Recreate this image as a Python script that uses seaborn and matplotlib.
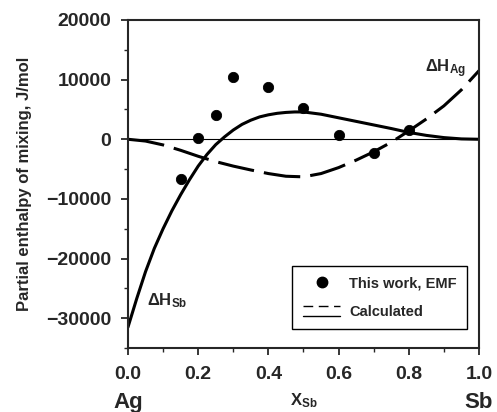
import numpy as np
import pandas as pd
import matplotlib
matplotlib.use("Agg")
import matplotlib.pyplot as plt
import seaborn as sns
from matplotlib.lines import Line2D
from matplotlib.legend_handler import HandlerBase
from matplotlib.ticker import MultipleLocator

# measured points (EMF)
x_emf = [0.15, 0.20, 0.25, 0.30, 0.40, 0.50, 0.60, 0.70, 0.80]
h_emf = [-6600, 200, 4000, 10400, 8700, 5200, 700, -2300, 1500]

# calculated partial enthalpy of Sb
x_sb = [0.0, 0.025, 0.05, 0.075, 0.10, 0.125, 0.15, 0.175, 0.20, 0.225, 0.25,
        0.275, 0.30, 0.325, 0.35, 0.375, 0.40, 0.425, 0.45, 0.475, 0.50,
        0.55, 0.60, 0.65, 0.70, 0.75, 0.80, 0.85, 0.90, 0.95, 1.0]
h_sb = [-31500, -26700, -22200, -18300, -15000, -12000, -9300, -6800, -4500,
        -2550, -900, 400, 1550, 2500, 3200, 3750, 4100, 4350, 4500, 4580, 4580,
        4200, 3600, 3000, 2400, 1800, 1150, 650, 280, 60, 0]

# calculated partial enthalpy of Ag
x_ag = [0.0, 0.05, 0.10, 0.15, 0.20, 0.25, 0.30, 0.35, 0.40, 0.45, 0.50,
        0.55, 0.60, 0.65, 0.70, 0.75, 0.80, 0.85, 0.90, 0.95, 1.0]
h_ag = [0, -300, -950, -1850, -2850, -3750, -4500, -5150, -5750, -6200, -6300,
        -5750, -4750, -3500, -2100, -500, 1400, 3400, 5600, 8300, 11500]

emf = pd.DataFrame({"x": x_emf, "h": h_emf})
calc_sb = pd.DataFrame({"x": x_sb, "h": h_sb})
calc_ag = pd.DataFrame({"x": x_ag, "h": h_ag})

sns.set_style("ticks")
plt.rcParams["font.family"] = ["Liberation Sans", "DejaVu Sans"]
plt.rcParams["font.weight"] = "bold"
plt.rcParams["mathtext.fontset"] = "custom"
plt.rcParams["mathtext.rm"] = "Liberation Sans:bold"
plt.rcParams["mathtext.bf"] = "Liberation Sans:bold"
plt.rcParams["mathtext.it"] = "Liberation Sans:bold"
plt.rcParams["mathtext.sf"] = "Liberation Sans:bold"

fig = plt.figure(figsize=(4.97, 4.12), dpi=100)
ax = fig.add_axes([0.2575, 0.1553, 0.7063, 0.7962])

ax.axhline(0, color="black", lw=0.8, zorder=1)
sns.lineplot(data=calc_sb, x="x", y="h", ax=ax, color="black", lw=2.2,
             sort=False, estimator=None)
sns.lineplot(data=calc_ag, x="x", y="h", ax=ax, color="black", lw=2.2,
             sort=False, estimator=None)
ax.lines[-1].set_dashes((12, 3.3))
sns.scatterplot(data=emf, x="x", y="h", ax=ax, color="black", s=55,
                edgecolor="black", zorder=5)

ax.set_xlim(0, 1)
ax.set_ylim(-35000, 20000)
ax.xaxis.set_minor_locator(MultipleLocator(0.1))
ax.yaxis.set_major_locator(MultipleLocator(10000))
ax.yaxis.set_minor_locator(MultipleLocator(5000))
ax.set_xticks([0, 0.2, 0.4, 0.6, 0.8, 1.0])
ax.set_xticklabels(["0.0", "0.2", "0.4", "0.6", "0.8", "1.0"])
ax.tick_params(which="major", length=5, width=1.3, labelsize=14, direction="out")
ax.tick_params(which="minor", length=3, width=1.0, direction="out")
ax.tick_params(axis="x", pad=8)
ax.tick_params(axis="y", pad=7)
for s in ax.spines.values():
    s.set_linewidth(1.5)
    s.set_visible(True)

ax.set_xlabel("")
ax.set_ylabel("Partial enthalpy of mixing, J/mol", fontsize=12, fontweight="bold",
              labelpad=10)

tr = ax.get_xaxis_transform()
ax.text(0.0, -0.165, "Ag", transform=tr, ha="center", va="center", fontsize=16)
ax.text(1.0, -0.165, "Sb", transform=tr, ha="center", va="center", fontsize=16)
ax.text(0.5, -0.16, r"$\mathrm{X}_{\mathrm{Sb}}$", transform=tr, ha="center",
        va="center", fontsize=12)

ax.text(0.055, -27000, r"$\Delta\mathrm{H}_{\mathrm{Sb}}$", ha="left", va="center",
        fontsize=12)
ax.text(0.845, 11800, r"$\Delta\mathrm{H}_{\mathrm{Ag}}$", ha="left", va="center",
        fontsize=12)


class CalcHandler(HandlerBase):
    # dashed line above, solid line below, one label
    def create_artists(self, legend, orig_handle, xdescent, ydescent, width,
                       height, fontsize, trans):
        y1 = height * 1.0
        y2 = height * 0.0
        a = Line2D([-xdescent, width - xdescent], [y1, y1], color="black", lw=1.0,
                   dashes=(7, 4), transform=trans)
        b = Line2D([-xdescent, width - xdescent], [y2, y2], color="black", lw=1.0,
                   transform=trans)
        return [a, b]


pt = Line2D([], [], marker="o", ls="none", color="black", markersize=7.5)
calc_h = Line2D([], [], color="black")
leg = ax.legend([pt, calc_h], ["This work, EMF", "Calculated"],
                handler_map={calc_h: CalcHandler()},
                loc="lower right", bbox_to_anchor=(0.966, 0.058),
                fontsize=10.5, frameon=True, fancybox=False, framealpha=1,
                edgecolor="black", handlelength=2.6, handletextpad=0.6,
                borderpad=0.7, labelspacing=1.0, borderaxespad=0)
leg.get_frame().set_linewidth(1.0)

fig.savefig("out.png", dpi=100)
